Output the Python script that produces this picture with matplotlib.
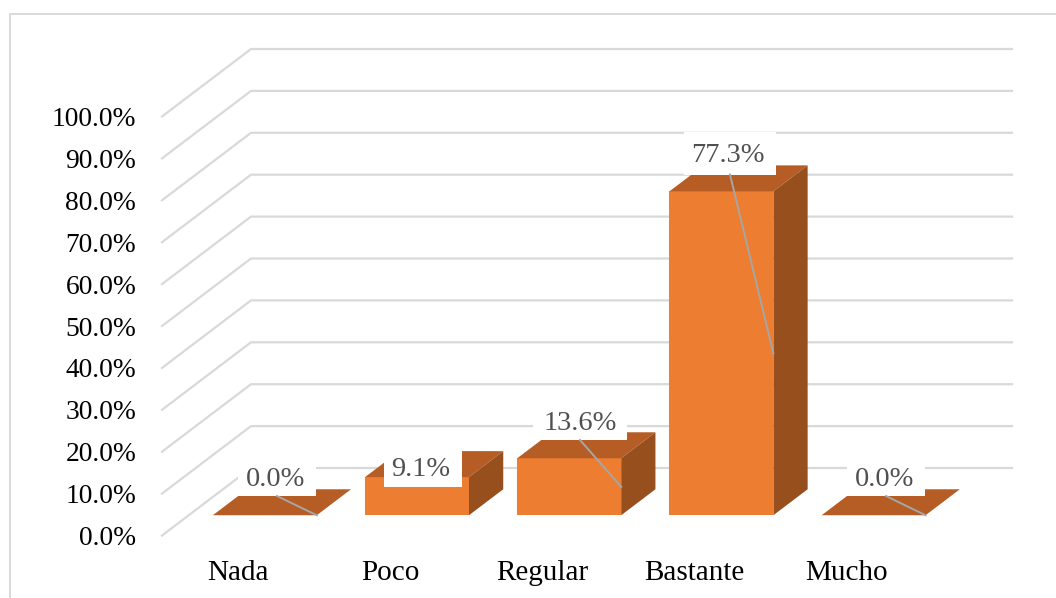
import matplotlib
matplotlib.use('Agg')
import matplotlib.pyplot as plt
from matplotlib.lines import Line2D
from matplotlib.patches import Polygon, Rectangle
from matplotlib.transforms import Affine2D

# data
categories = ['Nada', 'Poco', 'Regular', 'Bastante', 'Mucho']
values = [0.0, 9.1, 13.6, 77.3, 0.0]
y_ticks = [0, 10, 20, 30, 40, 50, 60, 70, 80, 90, 100]

# layout, in pixels of the 1056x598 picture
W, H = 1056, 598
PLOT_LEFT, PLOT_RIGHT = 162, 923
PLOT_TOP, PLOT_BOTTOM = 116.5, 535.5
DEPTH_PX_X, DEPTH_PX_Y = 89, 67.5

# data label boxes: centre x, centre y, width, height
label_boxes = [
    (277, 480, 78, 32),
    (423, 469, 78, 36),
    (580, 422, 94, 36),
    (730, 153, 92, 43),
    (886, 480, 78, 32),
]
label_text_dx = [-1, -2, 0, -2, -1]
label_text_dy = [0, 1, 2, 3, 0]
show_leader = [True, False, True, True, True]

FRONT = '#ED7D31'
TOP = '#B55D24'
SIDE = '#974F1D'
GRID = '#D9D9D9'
LEADER = '#A6A6A6'
LABEL = '#505050'

plt.rcParams['font.family'] = ['Liberation Serif', 'DejaVu Serif']

fig = plt.figure(figsize=(W / 100, H / 100), dpi=100)
ax = fig.add_axes([PLOT_LEFT / W, 1 - PLOT_BOTTOM / H,
                   (PLOT_RIGHT - PLOT_LEFT) / W, (PLOT_BOTTOM - PLOT_TOP) / H])
ax.set_xlim(-0.5, len(categories) - 0.5)
ax.set_ylim(0, 100)
ax.patch.set_visible(False)
for spine in ax.spines.values():
    spine.set_visible(False)

ax.set_xticks(range(len(categories)), categories)
ax.set_yticks(y_ticks, ['%.1f%%' % t for t in y_ticks])
ax.tick_params(axis='x', length=0, pad=17.5, labelsize=21)
ax.tick_params(axis='y', length=0, pad=18.5, labelsize=19.8)

# depth of the floor, in data units
unit_x = (PLOT_RIGHT - PLOT_LEFT) / len(categories)
unit_y = (PLOT_BOTTOM - PLOT_TOP) / 100
depth_x = DEPTH_PX_X / unit_x
depth_y = DEPTH_PX_Y / unit_y

# back wall and side wall grid
for t in y_ticks:
    ax.plot([-0.5, -0.5 + depth_x, len(categories) - 0.5 + depth_x],
            [t, t + depth_y, t + depth_y],
            color=GRID, lw=1.6, clip_on=False, zorder=1, solid_joinstyle='miter')

# bars sit part way into the floor
bar_w = 0.683
off = 0.30
deep = 0.385
x0 = [i + off * depth_x for i in range(len(categories))]
base = off * depth_y
dx, dy = deep * depth_x, deep * depth_y

ax.bar(x0, values, bottom=base, width=bar_w, color=FRONT, zorder=3, clip_on=False)
for x, v in zip(x0, values):
    left, right = x - bar_w / 2, x + bar_w / 2
    top = base + v
    ax.add_patch(Polygon([(left, top), (right, top), (right + dx, top + dy), (left + dx, top + dy)],
                         closed=True, facecolor=TOP, edgecolor='none', zorder=3, clip_on=False))
    if v > 0:
        ax.add_patch(Polygon([(right, base), (right + dx, base + dy), (right + dx, top + dy), (right, top)],
                             closed=True, facecolor=SIDE, edgecolor='none', zorder=3, clip_on=False))

# data labels with leader lines
to_px = Affine2D().scale(1, -1).translate(0, H)
for i, (x, v) in enumerate(zip(x0, values)):
    cx, cy, bw, bh = label_boxes[i]
    ax.add_patch(Rectangle((cx - bw / 2, cy - bh / 2), bw, bh, facecolor='white', edgecolor='none',
                           transform=to_px, zorder=4, clip_on=False))
    ax.text(cx + label_text_dx[i], cy + label_text_dy[i], '%.1f%%' % v, ha='center', va='center',
            fontsize=20.5, color=LABEL, transform=to_px, zorder=6)
    if show_leader[i]:
        # start under the label box, end half way up the bar's right edge
        start = ax.transData.inverted().transform(to_px.transform((cx, cy + bh / 2)))
        ax.plot([start[0], x + bar_w / 2], [start[1], base + v / 2],
                color=LEADER, lw=1.4, zorder=5, clip_on=False)

# outer chart frame, only top and left show
frame_x = [9.5 / W, 9.5 / W, 1]
frame_y = [0, 1 - 14 / H, 1 - 14 / H]
fig.add_artist(Line2D(frame_x, frame_y, color=GRID, lw=1.4, transform=fig.transFigure))

fig.savefig('out.png', dpi=100)
